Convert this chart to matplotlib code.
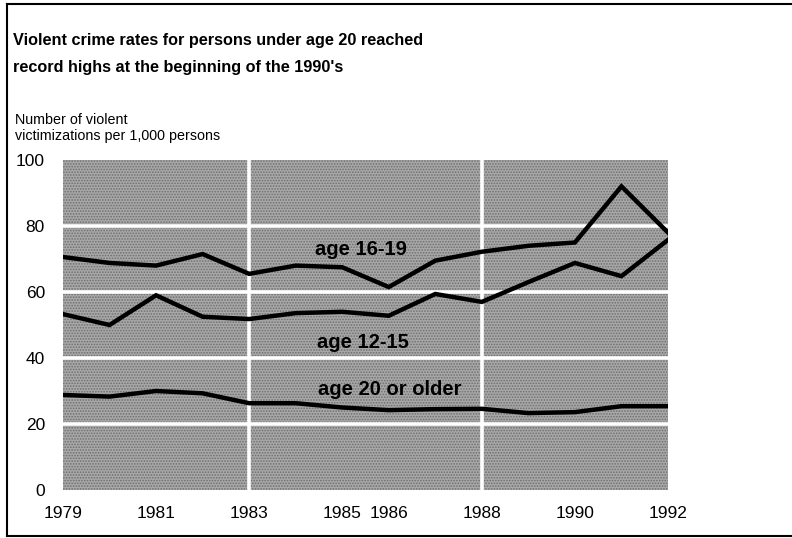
import matplotlib
matplotlib.use("Agg")
import matplotlib.pyplot as plt
from matplotlib.lines import Line2D
from matplotlib.patches import Rectangle

# Data (violent victimizations per 1,000 persons)
years = [1979, 1980, 1981, 1982, 1983, 1984, 1985, 1986, 1987, 1988, 1989, 1990, 1991, 1992]
age_16_19 = [70.6, 68.8, 68.0, 71.5, 65.5, 68.0, 67.5, 61.5, 69.5, 72.2, 74.0, 75.0, 92.0, 78.0]
age_12_15 = [53.3, 50.0, 59.0, 52.5, 51.8, 53.6, 54.0, 52.8, 59.4, 57.0, 63.0, 68.8, 64.8, 75.8]
age_20_plus = [28.8, 28.3, 30.0, 29.3, 26.3, 26.3, 25.0, 24.2, 24.5, 24.6, 23.3, 23.6, 25.4, 25.4]

xtick_years = [1979, 1981, 1983, 1985, 1986, 1988, 1990, 1992]
ytick_vals = [0, 20, 40, 60, 80, 100]
vgrid_years = [1983, 1988]

series_labels = ["age 16-19", "age 12-15", "age 20 or older"]
label_pos = [(1985.4, 73.0), (1985.45, 44.8), (1986.03, 30.6)]

font = ["Liberation Sans", "DejaVu Sans"]
plt.rcParams["hatch.linewidth"] = 0.8

fig = plt.figure(figsize=(7.92, 5.38), dpi=100)
W, H = 792, 538

# frame lines around the figure
fig.add_artist(Line2D([7 / W, 1.0], [1 - 4 / H, 1 - 4 / H], color="black", lw=1.5))
fig.add_artist(Line2D([7 / W, 7 / W], [1 - 4 / H, 2 / H], color="black", lw=1.5))
fig.add_artist(Line2D([7 / W, 1.0], [2 / H, 2 / H], color="black", lw=1.5))

# title and axis label
fig.text(13 / W, 1 - 45 / H, "Violent crime rates for persons under age 20 reached",
         family=font, fontweight="bold", fontsize=11.7, va="baseline")
fig.text(13 / W, 1 - 72 / H, "record highs at the beginning of the 1990's",
         family=font, fontweight="bold", fontsize=11.7, va="baseline")
fig.text(15 / W, 1 - 124 / H, "Number of violent",
         family=font, fontsize=10.3, va="baseline")
fig.text(15 / W, 1 - 140 / H, "victimizations per 1,000 persons",
         family=font, fontsize=10.3, va="baseline")

ax = fig.add_axes([63 / W, 48 / H, 605 / W, 330 / H])
ax.set_facecolor("#a8a8a8")
ax.set_xlim(1979, 1992)
ax.set_ylim(0, 100)

# stippled screen look
ax.add_patch(Rectangle((0, 0), 1, 1, transform=ax.transAxes, facecolor="none",
                       edgecolor="#6e6e6e", hatch="......", lw=0, zorder=0.5))

for v in ytick_vals[1:-1]:
    ax.axhline(v, color="white", lw=2.6, zorder=1)
for yr in vgrid_years:
    ax.axvline(yr, color="white", lw=2.6, zorder=1)

for vals in [age_16_19, age_12_15, age_20_plus]:
    ax.plot(years, vals, color="black", lw=3.2, solid_joinstyle="miter", zorder=3)

for lab, (x, y) in zip(series_labels, label_pos):
    ax.text(x, y, lab, family=font, fontweight="bold", fontsize=14.5,
            ha="center", va="center", zorder=4)

ax.set_xticks(xtick_years)
ax.set_xticklabels([str(y) for y in xtick_years], family=font, fontsize=12.5)
ax.set_yticks(ytick_vals)
ax.set_yticklabels([str(v) for v in ytick_vals], family=font, fontsize=12.5)
ax.tick_params(axis="both", length=0)
ax.tick_params(axis="y", pad=13)
ax.tick_params(axis="x", pad=11.5)
for s in ax.spines.values():
    s.set_visible(False)

fig.savefig("out.png", dpi=100)
